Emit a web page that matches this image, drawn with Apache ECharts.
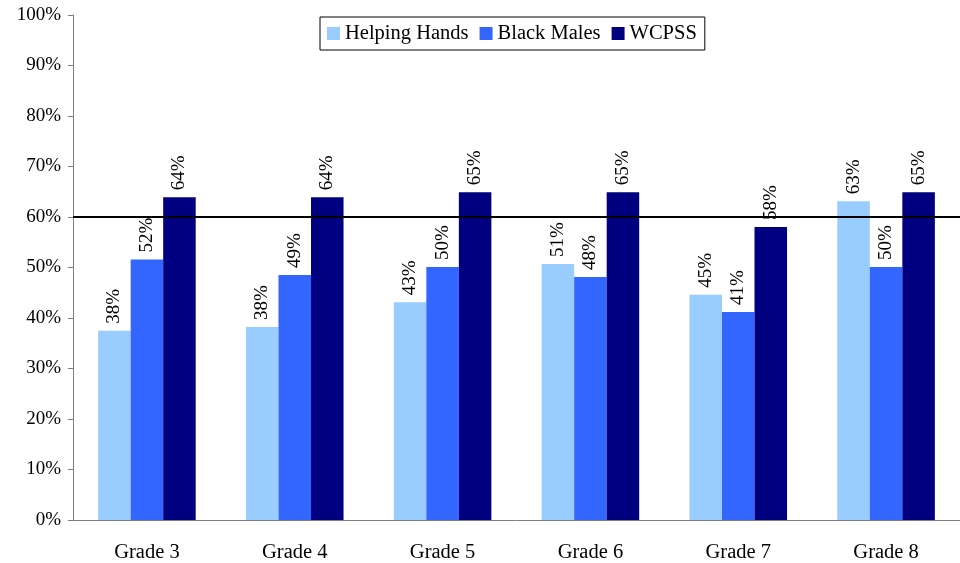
<!DOCTYPE html>
<html>
<head>
<meta charset="utf-8">
<script src="https://cdn.jsdelivr.net/npm/echarts@6/dist/echarts.min.js"></script>
<style>
  html, body { margin: 0; padding: 0; background: #fff; }
  #chart { width: 960px; height: 563px; }
</style>
</head>
<body>
<div id="chart"></div>
<script>
// categories and series values (percent)
const grades = ['Grade 3', 'Grade 4', 'Grade 5', 'Grade 6', 'Grade 7', 'Grade 8'];
const helpingHands = [37.5, 38.2, 43.1, 50.7, 44.6, 63.1];
const blackMales = [51.6, 48.5, 50.1, 48.1, 41.2, 50.1];
const wcpss = [63.9, 63.9, 64.9, 64.9, 58.0, 64.9];
const targetLine = 60;

const font = '"Liberation Serif", "Times New Roman", serif';

const chart = echarts.init(document.getElementById('chart'));

const barLabel = {
  show: true,
  position: 'top',
  rotate: 90,
  align: 'left',
  verticalAlign: 'middle',
  distance: 7,
  fontFamily: font,
  fontSize: 19,
  color: '#000',
  formatter: p => Math.round(p.value) + '%'
};

function makeSeries(name, data, color) {
  return {
    name: name,
    type: 'bar',
    data: data,
    barGap: '0%',
    barCategoryGap: '34%',
    itemStyle: { color: color },
    label: barLabel
  };
}

const series = [
  makeSeries('Helping Hands', helpingHands, '#99CCFF'),
  makeSeries('Black Males', blackMales, '#3366FF'),
  makeSeries('WCPSS', wcpss, '#000080')
];
// 60% reference line
series[2].markLine = {
  silent: true,
  symbol: 'none',
  label: { show: false },
  lineStyle: { color: '#000', width: 2, type: 'solid' },
  data: [{ yAxis: targetLine }]
};

chart.setOption({
  animation: false,
  textStyle: { fontFamily: font },
  grid: { left: 73, right: 0, top: 15, bottom: 41, containLabel: false },
  legend: {
    left: 320,
    top: 17,
    padding: [6, 8, 6, 7],
    borderColor: '#000',
    borderWidth: 1,
    icon: 'rect',
    itemWidth: 13,
    itemHeight: 13,
    itemGap: 11,
    textStyle: { fontFamily: font, fontSize: 20.5, color: '#000' },
    data: ['Helping Hands', 'Black Males', 'WCPSS']
  },
  xAxis: {
    type: 'category',
    data: grades,
    axisLine: { lineStyle: { color: '#808080', width: 1 } },
    axisTick: { show: false },
    axisLabel: { fontFamily: font, fontSize: 20.5, color: '#000', margin: 22 }
  },
  yAxis: {
    type: 'value',
    min: 0,
    max: 100,
    interval: 10,
    axisLine: { show: true, lineStyle: { color: '#808080', width: 1 } },
    axisTick: { show: true, length: 5, lineStyle: { color: '#808080' } },
    splitLine: { show: false },
    axisLabel: { fontFamily: font, fontSize: 19, color: '#000', margin: 12, formatter: '{value}%' }
  },
  series: series
});
</script>
</body>
</html>
